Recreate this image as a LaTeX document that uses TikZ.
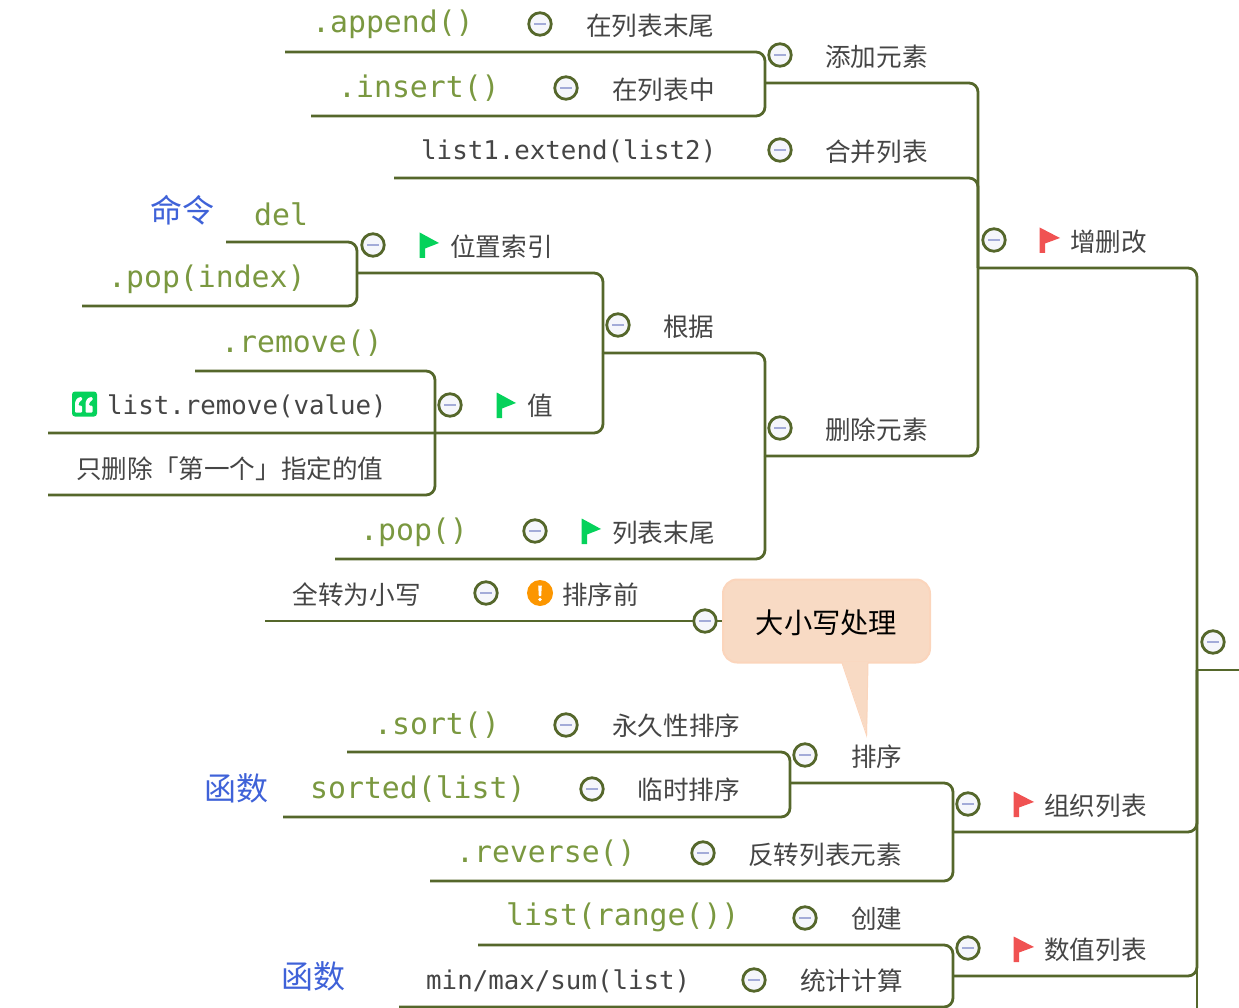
\documentclass[tikz,border=0pt]{standalone}
\usepackage{fontspec}
\setmainfont{Noto Sans CJK SC}
\newfontfamily\cjklt{Noto Sans CJK SC}
\setmonofont{DejaVu Sans Mono}
\definecolor{branch}{HTML}{55672B}
\definecolor{txt}{HTML}{454545}
\definecolor{code}{HTML}{7A9840}
\definecolor{blu}{HTML}{3F62D8}
\definecolor{minusc}{HTML}{A3ABD8}
\definecolor{knobbg}{HTML}{F5F6FB}
\definecolor{redflag}{HTML}{F05252}
\definecolor{greenflag}{HTML}{05D25B}
\definecolor{warnc}{HTML}{FC9600}
\definecolor{callfill}{HTML}{F8DAC4}
\definecolor{calledge}{HTML}{FBD5BC}
\tikzset{
 x=1pt,y=-1pt,
 conn/.style={draw=branch,line width=2.8pt,rounded corners=9pt},
 zh/.style={inner sep=0pt,text=txt,font=\cjklt\fontsize{25.6}{30}\selectfont},
 zhl/.style={inner sep=0pt,text=blu,font=\cjklt\fontsize{32}{36}\selectfont},
 cg/.style={inner sep=0pt,text=code,font=\ttfamily\fontsize{29.8}{32}\selectfont},
 cd/.style={inner sep=0pt,text=txt,font=\ttfamily\fontsize{25.8}{30}\selectfont},
 knob/.style={circle,draw=branch,line width=2.8pt,fill=knobbg,minimum size=22.5pt,inner sep=0pt,
   path picture={\fill[minusc] ([xshift=-6pt,yshift=-1.4pt]path picture bounding box.center) rectangle ([xshift=6pt,yshift=1.4pt]path picture bounding box.center);}},
}
\newcommand{\rflag}[2]{\fill[redflag] (#1-1.3,#2-12.5) -- (#1+19,#2-2) -- (#1+4,#2+3.5) -- (#1+4,#2+13) -- (#1-1.3,#2+13) -- cycle;}
\newcommand{\gflag}[2]{\fill[greenflag] (#1-1.3,#2-12.5) -- (#1+18,#2-2) -- (#1+4,#2+3.5) -- (#1+4,#2+13) -- (#1-1.3,#2+13) -- cycle;}
\newcommand{\quotemark}[2]{\fill[white,rounded corners=1pt] (#1+7,#2-8) .. controls (#1+2,#2-8) and (#1,#2-4) .. (#1,#2) -- (#1,#2+7.5) -- (#1+7,#2+7.5) -- (#1+7,#2+0.5) -- (#1+3.5,#2+0.5) .. controls (#1+3.5,#2-2) and (#1+5,#2-4) .. (#1+7,#2-4.5) -- cycle;}
\begin{document}
\begin{tikzpicture}
\useasboundingbox (0,0) rectangle (1239,1008);
% anchors of the connector lines
\coordinate (Lappend) at (285,52);
\coordinate (Linsert) at (311,116);
\coordinate (Jadd) at (765,83);
\coordinate (Lextend) at (394,178);
\coordinate (Jzsg) at (978,268);
\coordinate (Jdel) at (765,456);
\coordinate (Ldel) at (226,242);
\coordinate (Lpopi) at (82,306);
\coordinate (Jpos) at (357,273);
\coordinate (Jgen) at (603,353);
\coordinate (Lrem) at (195,371);
\coordinate (Lremv) at (48,433);
\coordinate (Lonly) at (48,495);
\coordinate (Jval) at (435,433);
\coordinate (Lpop) at (335,559);
\coordinate (Lsort) at (347,752);
\coordinate (Lsorted) at (283,817);
\coordinate (Jsort) at (790,783);
\coordinate (Lrev) at (430,881);
\coordinate (Jorg) at (953,832);
\coordinate (Jnum) at (953,976);
\coordinate (Lrange) at (478,945);
\coordinate (Lminmax) at (399,1007);
\coordinate (Jroot) at (1197,670);
\coordinate (Rroot) at (1239,670);
\coordinate (Tz) at (1197,1008);
\coordinate (Lall) at (265,621);
% connectors
\draw[conn] (Lappend) -| (Jadd) |- (Linsert);
\draw[conn] (Jadd) -| (Jzsg);
\draw[conn] (Lextend) -| (Jzsg);
\draw[conn] (Jdel) -| (Jzsg);
\draw[conn] (Jzsg) -| (Jroot);
\draw[conn] (Ldel) -| (Jpos) |- (Lpopi);
\draw[conn] (Jpos) -| (Jgen);
\draw[conn] (Lrem) -| (Jval) |- (Lonly);
\draw[conn] (Lremv) -| (Jgen);
\draw[conn] (Jgen) -| (Jdel);
\draw[conn] (Lpop) -| (Jdel);
\draw[conn] (Lsort) -| (Jsort) |- (Lsorted);
\draw[conn] (Jsort) -| (Jorg);
\draw[conn] (Lrev) -| (Jorg);
\draw[conn] (Jorg) -| (Jroot);
\draw[conn] (Lrange) -| (Jnum) |- (Lminmax);
\draw[conn] (Jnum) -| (Jroot);
\draw[conn] (Jroot) -- (Rroot);
\draw[conn] (Jroot) -- (Tz);
% callout
\node[draw=calledge,fill=callfill,line width=2pt,rounded corners=14pt,minimum width=207pt,minimum height=83pt,inner sep=0pt] (call) at (826.5,621) {};
\fill[callfill] (842,662) -- (867,735) -- (868,662) -- cycle;
\draw[calledge,line width=1pt] (842,663) -- (866.5,735) -- (868,663);
\node[inner sep=0pt,text=black,font=\cjklt\fontsize{28.3}{32}\selectfont] (calltxt) at (826.5,623) {大小写处理};
\draw[conn] (Lall) -- (call.west);
% texts
\node[cg,anchor=west] (append) at (312,24) {.append()};
\node[zh,anchor=west] (a1) at (586,25.5) {在列表末尾};
\node[cg,anchor=west] (insert) at (338,88) {.insert()};
\node[zh,anchor=west] (a2) at (612,89.5) {在列表中};
\node[zh,anchor=west] (add) at (825,56.5) {添加元素};
\node[cd,anchor=west] (ext) at (421,151) {list1.extend(list2)};
\node[zh,anchor=west] (merge) at (825,151.5) {合并列表};
\node[zh,anchor=west] (zsg) at (1070,241.5) {增删改};
\node[zhl,anchor=west] (cmd) at (150,210.5) {命令};
\node[cg,anchor=west] (del) at (254,214.5) {del};
\node[zh,anchor=west] (pos) at (450,247) {位置索引};
\node[cg,anchor=west] (popi) at (108,279) {.pop(index)};
\node[zh,anchor=west] (gen) at (663,326.5) {根据};
\node[cg,anchor=west] (rem) at (221,343) {.remove()};
\node[cd,anchor=west] (lrem) at (107,406) {list.remove(value)};
\node[zh,anchor=west] (val) at (527,406) {值};
\node[zh,anchor=west] (only) at (76,468.5) {只删除「第一个」指定的值};
\node[zh,anchor=west] (delel) at (825,430) {删除元素};
\node[cg,anchor=west] (pop) at (360,532) {.pop()};
\node[zh,anchor=west] (tail) at (612,533) {列表末尾};
\node[zh,anchor=west] (lower) at (292.5,595) {全转为小写};
\node[zh,anchor=west] (before) at (562,595) {排序前};
\node[cg,anchor=west] (sort) at (374,725) {.sort()};
\node[zh,anchor=west] (perm) at (612,726) {永久性排序};
\node[zh,anchor=west] (srt) at (851,757) {排序};
\node[zhl,anchor=west] (fn1) at (204,788) {函数};
\node[cg,anchor=west] (sorted) at (310,789) {sorted(list)};
\node[zh,anchor=west] (tmp) at (637.5,790) {临时排序};
\node[zh,anchor=west] (org) at (1044,806) {组织列表};
\node[cg,anchor=west] (rev) at (456,853) {.reverse()};
\node[zh,anchor=west] (revt) at (748,855) {反转列表元素};
\node[cg,anchor=west] (rng) at (506,917) {list(range())};
\node[zh,anchor=west] (cre) at (851,919) {创建};
\node[zh,anchor=west] (num) at (1044,950) {数值列表};
\node[zhl,anchor=west] (fn2) at (281,976) {函数};
\node[cd,anchor=west] (mm) at (426,981) {min/max/sum(list)};
\node[zh,anchor=west] (stat) at (800,981) {统计计算};
% knobs
\foreach \nm/\x/\y in {k1/540/24,k2/566/88,k3/780/55,k4/780/150,k5/994/240,k6/373/245,k7/618/325,k8/450/405,k9/780/428,k10/535/531,k11/486/593,k12/705/621,k13/566/725,k14/805/755,k15/592/789,k16/968/804,k17/703/853,k18/805/918,k19/968/948,k20/754/980,k21/1213/642}
  \node[knob] (\nm) at (\x,\y) {};
% flags
\rflag{1041}{240}
\gflag{421}{245}
\gflag{498}{405}
\gflag{583}{531}
\rflag{1015}{804}
\rflag{1015}{949}
% warning badge
\node[circle,fill=warnc,minimum size=26pt,inner sep=0pt] (warn) at (540,593) {};
\fill[white] (538.2,585.5) -- (541.8,585.5) -- (541.2,596) -- (538.8,596) -- cycle;
\fill[white] (540,599.5) circle (1.9);
% quote badge
\node[fill=greenflag,rounded corners=3pt,minimum size=25pt,inner sep=0pt] (quote) at (84.5,404) {};
\quotemark{75}{405}
\quotemark{85.5}{405}
\end{tikzpicture}
\end{document}
